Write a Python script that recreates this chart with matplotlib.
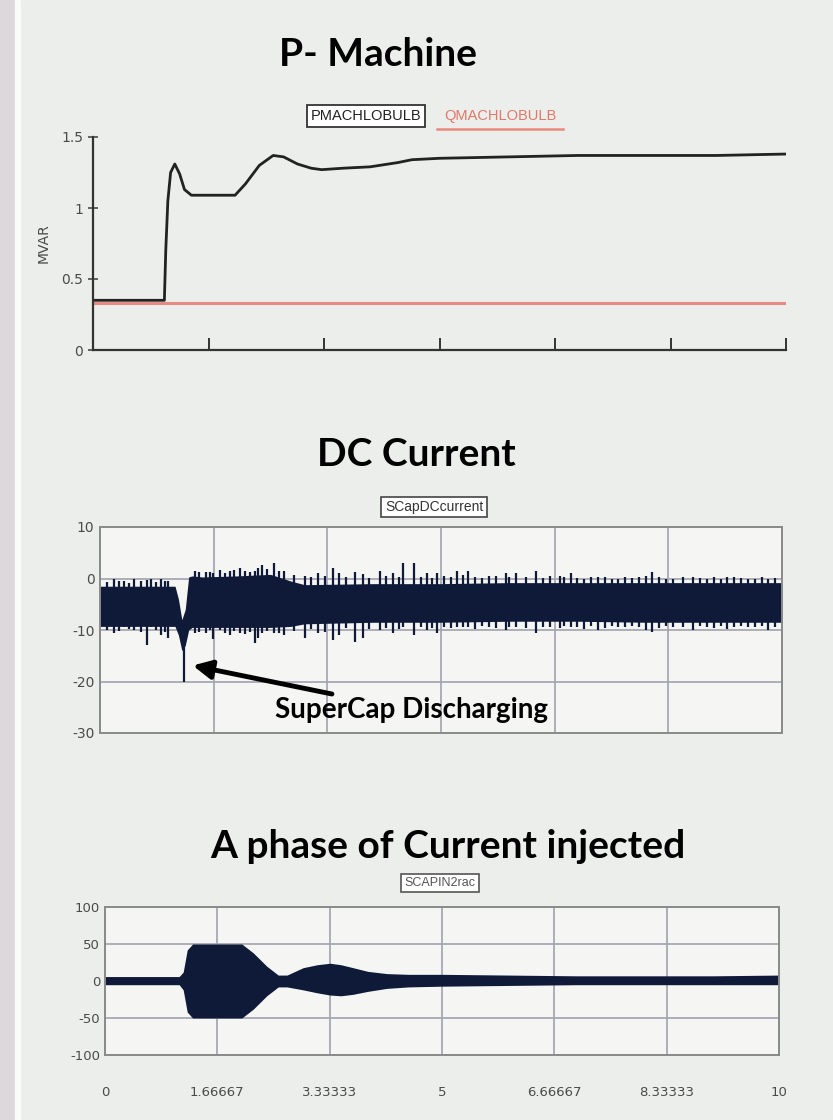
import numpy as np
import matplotlib
matplotlib.use("Agg")
import matplotlib.pyplot as plt
from matplotlib.patches import Rectangle
from matplotlib.lines import Line2D

plt.rcParams['axes.unicode_minus'] = False

W, H = 833, 1120

# ---- data ----
# P- Machine (MVAR)
p_t = [0, 1.03, 1.05, 1.08, 1.12, 1.18, 1.25, 1.32, 1.42, 1.5, 2.05, 2.2, 2.4, 2.6,
       2.75, 2.95, 3.15, 3.3, 3.6, 4.0, 4.4, 4.6, 5.0, 6.0, 7.0, 8.0, 9.0, 10.0]
p_val = [0.35, 0.35, 0.7, 1.05, 1.25, 1.31, 1.24, 1.13, 1.09, 1.09, 1.09, 1.17, 1.30, 1.37,
         1.36, 1.31, 1.28, 1.27, 1.28, 1.29, 1.32, 1.34, 1.35, 1.36, 1.37, 1.37, 1.37, 1.38]
q_t = [0, 10]
q_val = [0.33, 0.33]

# DC current band (upper / lower envelope) and spikes sticking out of it
dc_t = [0, 1.1, 1.15, 1.2, 1.25, 1.3, 1.35, 1.5, 2.0, 2.5, 2.8, 3.0, 4.0, 5.0, 6.0, 7.0, 8.0, 9.0, 10]
dc_hi = [-1.5, -1.5, -4, -8, -6, 0.3, 0.5, 0.3, 0.5, 0.8, -0.5, -1.2, -1.0, -1.0, -0.8, -0.8, -0.8, -0.8, -0.8]
dc_lo = [-9.3, -9.3, -11, -14, -13, -10, -9.5, -9.5, -9.5, -9.5, -9.3, -8.8, -8.5, -8.5, -8.3, -8.3, -8.5, -8.5, -8.5]
spike_t = [0.2, 0.35, 0.5, 0.69, 0.75, 0.9, 1.0, 1.23, 1.4, 1.55, 1.66, 1.76, 1.9, 2.05, 2.27,
           2.32, 2.38, 2.55, 2.7, 3.0, 3.2, 3.42, 3.5, 3.74, 3.86, 4.1, 4.3, 4.45, 4.6, 4.8,
           4.94, 5.23, 5.4, 5.7, 5.96, 6.1, 6.4, 6.6, 6.9, 7.1, 7.3, 7.6, 7.9, 8.0, 8.1, 8.4,
           8.7, 8.9, 9.2, 9.5, 9.8]
spike_lo = [-10.5, -9.5, -10, -13, -9.5, -11, -11.5, -20, -10.5, -10.5, -11.7, -10, -11, -10.5, -12.6,
            -11.5, -10.5, -10.5, -11, -11.5, -10.5, -12, -11, -12.3, -11.5, -10, -10.5, -9.5, -11, -10,
            -10.5, -9.5, -9.5, -9.5, -10, -9.5, -10.5, -9.5, -9.5, -9.8, -10, -9.5, -9.5, -10, -10.3, -9.5,
            -10, -9.5, -9.8, -9.5, -10]
spike_hi = [0, -0.5, 0, -0.3, 0, 0, -0.5, -12, 1.5, 1.2, 1.0, 1.7, 1.5, 2.0, 1.5,
            2.0, 2.7, 3.0, 1.5, 0.5, 1.0, 2.0, 1.0, 1.2, 0.8, 1.5, 1.0, 3.0, 3.0, 1.0,
            1.0, 1.5, 1.5, 0.5, 1.0, 1.0, 1.5, 0.5, 1.0, 0, 0.3, 0, 0.3, 0.5, 1.2, 0,
            0.3, 0, 0.2, 0, 0]
# short fringe along both edges of the band
fringe_t = [0.1, 0.28, 0.42, 0.6, 0.82, 0.95, 1.45, 1.62, 1.83, 1.97, 2.12, 2.2, 2.45, 2.62,
            2.85, 3.1, 3.3, 3.6, 3.95, 4.2, 4.38, 4.7, 4.87, 5.05, 5.15, 5.32, 5.5, 5.6, 5.8,
            6.0, 6.25, 6.5, 6.75, 6.8, 7.0, 7.2, 7.4, 7.5, 7.7, 7.8, 8.2, 8.3, 8.55, 8.8,
            9.0, 9.1, 9.3, 9.4, 9.6, 9.7, 9.9]
fringe_lo = [-10, -10.2, -9.9, -10.3, -10, -10.4, -10.3, -10, -10.6, -10.2, -10.8, -10.4, -10.2, -10.6,
             -10.2, -9.8, -10.4, -9.6, -9.8, -9.6, -9.9, -9.5, -9.7, -9.4, -9.6, -9.5, -9.8, -9.3, -9.6,
             -9.4, -9.7, -9.4, -9.6, -9.3, -9.5, -9.2, -9.6, -9.3, -9.5, -9.2, -9.6, -9.3, -9.5, -9.2,
             -9.6, -9.3, -9.5, -9.2, -9.4, -9.3, -9.5]
fringe_hi = [-0.7, -0.5, -0.8, -0.4, -0.6, -0.5, 1.2, 1.3, 1.0, 1.6, 1.4, 1.2, 1.8, 1.5,
             0.6, 0.2, 0.4, 0.3, 0.1, 0.5, 0.2, 0.3, 0.1, 0.4, 0.2, 0.6, 0.3, 0.1, 0.4,
             0.2, 0.3, 0.1, 0.4, 0.2, 0.1, 0.3, 0.2, 0, 0.3, 0.1, 0.2, 0, 0.2, 0.1,
             0.3, 0, 0.2, 0.1, 0, 0.2, 0.1]

# A phase current band
ap_t = [0, 1.1, 1.16, 1.22, 1.3, 2.03, 2.2, 2.4, 2.57, 2.7, 2.94, 3.15, 3.34, 3.5, 3.68,
        3.9, 4.18, 4.5, 5.0, 6.0, 7.0, 8.0, 9.0, 10]
ap_hi = [6, 6, 12, 42, 50, 50, 38, 20, 8, 8, 18, 22, 24, 22, 18, 13, 10, 9, 9, 8, 7, 7, 7, 8]
ap_lo = [-5, -5, -12, -42, -50, -50, -38, -20, -8, -8, -12, -16, -19, -20, -18, -14, -10, -8,
         -7, -6, -5, -5, -5, -5]

xticks = [0, 10/6, 20/6, 5, 40/6, 50/6, 10]
xtick_labels = ['0', '1.66667', '3.33333', '5', '6.66667', '8.33333', '10']

navy = '#0f1a38'
grid_c = '#a0a2ae'
lab_c = '#4a4a4a'
title_font = 'Lato'


def rect(l, t, r, b):
    return [l / W, 1 - b / H, (r - l) / W, (b - t) / H]


fig = plt.figure(figsize=(W / 100, H / 100), dpi=100, facecolor='#eceeec')
# screen bezel on the left
fig.patches.append(Rectangle((0, 0), 15 / W, 1, transform=fig.transFigure,
                             color='#ddd8dc', zorder=0))
fig.patches.append(Rectangle((15 / W, 0), 5 / W, 1, transform=fig.transFigure,
                             color='#fafafa', zorder=0))

# ---------- P- Machine ----------
ax1 = fig.add_axes(rect(93, 137, 786, 350))
ax1.set_facecolor('none')
ax1.plot(q_t, q_val, color='#e88a80', lw=2.2)
ax1.plot(p_t, p_val, color='#222222', lw=2)
ax1.set_xlim(0, 10)
ax1.set_ylim(0, 1.5)
for s in ['top', 'right']:
    ax1.spines[s].set_visible(False)
for s in ['left', 'bottom']:
    ax1.spines[s].set_color('#333333')
    ax1.spines[s].set_linewidth(1.6)
ax1.set_xticks(xticks[1:])
ax1.set_xticklabels([])
ax1.tick_params(axis='x', direction='in', length=9, width=1.4, color='#333333')
ax1.set_yticks([0, 0.5, 1, 1.5])
ax1.set_yticklabels(['0', '0.5', '1', '1.5'])
ax1.tick_params(axis='y', direction='inout', length=7, width=1.2, colors=lab_c, labelsize=10)
ax1.set_ylabel('MVAR', color=lab_c, fontsize=10, labelpad=8)

fig.text(378 / W, 1 - 55 / H, 'P- Machine', ha='center', va='center',
         fontsize=28, fontweight='bold', family=title_font)
fig.text(366 / W, 1 - 116 / H, 'PMACHLOBULB', ha='center', va='center', fontsize=10.5,
         family='Liberation Sans', color='#222222',
         bbox=dict(boxstyle='square,pad=0.25', fc='white', ec='#333333', lw=1.3))
fig.text(500 / W, 1 - 116 / H, 'QMACHLOBULB', ha='center', va='center', fontsize=10.5,
         family='Liberation Sans', color='#e07868')
fig.add_artist(Line2D([437 / W, 563 / W], [1 - 129 / H, 1 - 129 / H],
                      transform=fig.transFigure, color='#e88a80', lw=1.8))

# ---------- DC Current ----------
ax2 = fig.add_axes(rect(100, 527, 782, 733))
ax2.set_facecolor('#f5f5f3')
ax2.fill_between(dc_t, dc_lo, dc_hi, color=navy, lw=0)
ax2.vlines(spike_t, spike_lo, spike_hi, color=navy, lw=1.6)
ax2.vlines(fringe_t, fringe_lo, fringe_hi, color=navy, lw=1.6)
ax2.set_xlim(0, 10)
ax2.set_ylim(-30, 10)
ax2.set_xticks(xticks)
ax2.set_xticklabels([])
ax2.set_yticks([-30, -20, -10, 0, 10])
ax2.set_yticklabels(['-30', '-20', '-10', '0', '10'])
ax2.tick_params(length=0, labelsize=10, labelcolor=lab_c, pad=4)
ax2.grid(True, color=grid_c, lw=1.2)
ax2.set_axisbelow(True)
for s in ax2.spines.values():
    s.set_color('#8a8a8a')
    s.set_linewidth(1.4)

fig.text(416 / W, 1 - 455 / H, 'DC Current', ha='center', va='center',
         fontsize=28, fontweight='bold', family=title_font)
fig.text(434 / W, 1 - 507 / H, 'SCapDCcurrent', ha='center', va='center', fontsize=10,
         family='Liberation Sans', color='#333333',
         bbox=dict(boxstyle='square,pad=0.25', fc='white', ec='#444444', lw=1.2))

ax2.annotate('SuperCap Discharging', xy=(1.36, -16.9), xytext=(2.57, -25.6),
             ha='left', va='center', fontsize=20, fontweight='bold', family=title_font,
             arrowprops=dict(arrowstyle='-|>', color='black', lw=3.5,
                             mutation_scale=28, shrinkA=2, shrinkB=0))

# ---------- A phase of Current injected ----------
ax3 = fig.add_axes(rect(105, 907, 779, 1055))
ax3.set_facecolor('#f5f5f3')
ax3.fill_between(ap_t, ap_lo, ap_hi, color=navy, lw=0)
ax3.set_xlim(0, 10)
ax3.set_ylim(-100, 100)
ax3.set_xticks(xticks)
ax3.set_xticklabels(xtick_labels)
ax3.set_yticks([-100, -50, 0, 50, 100])
ax3.set_yticklabels(['-100', '-50', '0', '50', '100'])
ax3.tick_params(length=0, labelsize=9.5, labelcolor=lab_c)
ax3.tick_params(axis='x', pad=22)
ax3.grid(True, color=grid_c, lw=1.2)
ax3.set_axisbelow(True)
for s in ax3.spines.values():
    s.set_color('#8a8a8a')
    s.set_linewidth(1.4)

fig.text(448 / W, 1 - 846 / H, 'A phase of Current injected', ha='center', va='center',
         fontsize=28, fontweight='bold', family=title_font)
fig.text(440 / W, 1 - 883 / H, 'SCAPIN2rac', ha='center', va='center', fontsize=9,
         family='Liberation Sans', color='#555555',
         bbox=dict(boxstyle='square,pad=0.25', fc='white', ec='#555555', lw=1.2))

fig.savefig('out.png', dpi=100, facecolor=fig.get_facecolor())
